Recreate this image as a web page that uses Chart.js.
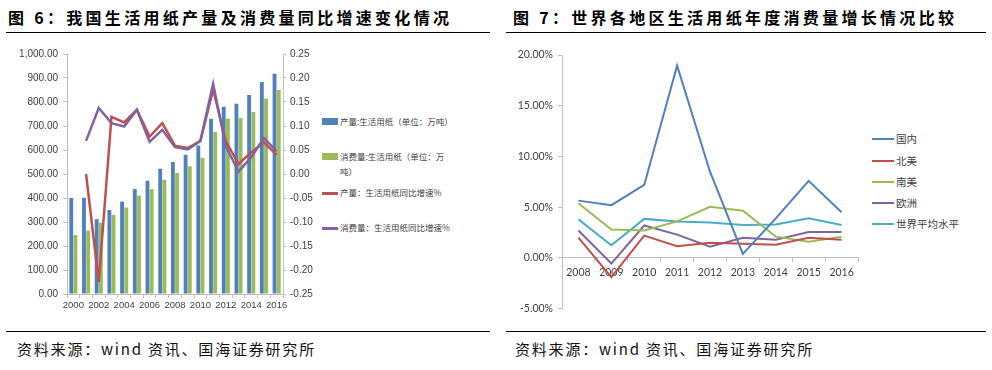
<!DOCTYPE html>
<html>
<head>
<meta charset="utf-8">
<script src="https://cdn.jsdelivr.net/npm/chart.js@4.4.1/dist/chart.umd.min.js"></script>
<style>
  body { margin: 0; background: #fff; }
  #page { position: relative; width: 992px; height: 370px; overflow: hidden; font-family: "Noto Sans CJK SC", sans-serif; }
  .title { position: absolute; top: 5px; font-size: 16px; font-weight: 700; letter-spacing: 3.3px; color: #000; white-space: nowrap; }
  .rule { position: absolute; height: 0; border-top: 1.5px solid #000; }
  .source { position: absolute; top: 338px; font-size: 15px; letter-spacing: 1.8px; color: #111; white-space: nowrap; }
  canvas { position: absolute; }
  .lg { position: absolute; font-size: 8.5px; color: #404040; line-height: 15px; white-space: nowrap; }
  .lg2 { position: absolute; font-size: 10.5px; color: #404040; line-height: 14px; white-space: nowrap; }
  .sw { position: absolute; }
</style>
</head>
<body>
<div id="page">
  <div class="title" style="left:8px">图 6：我国生活用纸产量及消费量同比增速变化情况</div>
  <div class="title" style="left:513px">图 7：世界各地区生活用纸年度消费量增长情况比较</div>
  <div class="rule" style="left:6px; width:484px; top:32px"></div>
  <div class="rule" style="left:506px; width:480px; top:32px"></div>
  <div class="rule" style="left:6px; width:484px; top:331px"></div>
  <div class="rule" style="left:506px; width:480px; top:331px"></div>
  <div class="source" style="left:17px">资料来源：wind 资讯、国海证券研究所</div>
  <div class="source" style="left:515px">资料来源：wind 资讯、国海证券研究所</div>

  <canvas id="c1" width="320" height="280" style="left:0; top:40px"></canvas>
  <canvas id="c2" width="370" height="280" style="left:500px; top:40px"></canvas>

  <div id="legend1"></div>
  <div id="legend2"></div>
</div>

<script>
// figure 6: China tissue paper output / consumption (10k tonnes) and YoY growth
const years6 = ["2000", "2001", "2002", "2003", "2004", "2005", "2006", "2007", "2008",
  "2009", "2010", "2011", "2012", "2013", "2014", "2015", "2016"];
const prodVolume = [400, 401, 312, 350, 385, 437, 472, 522, 550, 580, 619, 730, 780, 793, 829, 883, 918];
const consVolume = [246, 264, 297, 330, 360, 410, 437, 476, 504, 532, 568, 675, 730, 733, 758, 814, 851];
const prodGrowth = [null, 0.0, -0.225, 0.119, 0.1075, 0.134, 0.078, 0.106, 0.059, 0.054, 0.069,
  0.176, 0.068, 0.021, 0.045, 0.066, 0.04];
const consGrowth = [null, 0.069, 0.1375, 0.106, 0.099, 0.134, 0.067, 0.092, 0.056, 0.051, 0.069,
  0.188, 0.0575, 0.005, 0.035, 0.075, 0.047];

// figure 7: tissue consumption growth by region (%)
const years7 = ["2008", "2009", "2010", "2011", "2012", "2013", "2014", "2015", "2016"];
const domestic = [5.65, 5.2, 7.2, 18.95, 8.5, 0.4, 3.9, 7.6, 4.5];
const northAmerica = [2.0, -1.9, 2.2, 1.15, 1.5, 1.4, 1.3, 2.0, 1.8];
const southAmerica = [5.4, 2.8, 2.7, 3.6, 5.05, 4.65, 2.1, 1.6, 2.1];
const europe = [2.7, -0.55, 3.2, 2.3, 1.1, 2.0, 1.8, 2.55, 2.55];
const worldAvg = [3.8, 1.25, 3.85, 3.6, 3.5, 3.25, 3.3, 3.9, 3.25];

const BLUE = "#4F81BD", RED = "#C0504D", GREEN = "#9BBB59", PURPLE = "#8064A2", CYAN = "#4BACC6";
const AXIS = "#BFBFBF", TICK = "#404040";

const legend1 = [
  { text: "产量:生活用纸（单位：万吨）", color: BLUE, kind: "bar", y: 122 },
  { text: "消费量:生活用纸（单位：万<br>吨）", color: GREEN, kind: "bar", y: 157 },
  { text: "产量：生活用纸同比增速%", color: RED, kind: "line", y: 193 },
  { text: "消费量：生活用纸同比增速%", color: PURPLE, kind: "line", y: 228 },
];
const legend2 = [
  { text: "国内", color: BLUE, y: 139 },
  { text: "北美", color: RED, y: 161 },
  { text: "南美", color: GREEN, y: 182 },
  { text: "欧洲", color: PURPLE, y: 203 },
  { text: "世界平均水平", color: CYAN, y: 224 },
];

let html = "";
legend1.forEach((it) => {
  if (it.kind === "bar") {
    html += `<div class="sw" style="left:322px;top:${it.y - 4}px;width:16px;height:7px;background:${it.color}"></div>`;
  } else {
    html += `<div class="sw" style="left:322px;top:${it.y - 1}px;width:16px;height:2.5px;background:${it.color}"></div>`;
  }
  html += `<div class="lg" style="left:340px;top:${it.y - 8}px">${it.text}</div>`;
});
document.getElementById("legend1").innerHTML = html;

html = "";
legend2.forEach((it) => {
  html += `<div class="sw" style="left:872px;top:${it.y - 1}px;width:22px;height:2px;background:${it.color}"></div>`;
  html += `<div class="lg2" style="left:896px;top:${it.y - 7}px">${it.text}</div>`;
});
document.getElementById("legend2").innerHTML = html;

const narrow = { family: '"Liberation Sans Narrow", "Liberation Sans", Arial, sans-serif', size: 10 };
const narrowX = { family: '"Liberation Sans Narrow", "Liberation Sans", Arial, sans-serif', size: 9.5 };

new Chart(document.getElementById("c1"), {
  type: "bar",
  data: {
    labels: years6,
    datasets: [
      { label: "产量:生活用纸（单位：万吨）", data: prodVolume, backgroundColor: BLUE,
        yAxisID: "y", order: 2, categoryPercentage: 0.66, barPercentage: 0.92 },
      { label: "消费量:生活用纸（单位：万吨）", data: consVolume, backgroundColor: GREEN,
        yAxisID: "y", order: 2, categoryPercentage: 0.66, barPercentage: 0.92 },
      { type: "line", label: "产量：生活用纸同比增速%", data: prodGrowth, borderColor: RED,
        borderWidth: 2.5, pointRadius: 0, yAxisID: "y1", order: 1, tension: 0 },
      { type: "line", label: "消费量：生活用纸同比增速%", data: consGrowth, borderColor: PURPLE,
        borderWidth: 2.5, pointRadius: 0, yAxisID: "y1", order: 0, tension: 0 },
    ],
  },
  options: {
    responsive: false,
    animation: false,
    layout: { padding: { top: 14, left: 0, right: 0, bottom: 0 } },
    plugins: { legend: { display: false }, tooltip: { enabled: false } },
    scales: {
      x: {
        grid: { display: true, drawOnChartArea: false, tickLength: 4, color: AXIS },
        border: { color: AXIS },
        ticks: {
          autoSkip: false, maxRotation: 0, color: TICK, font: narrowX, padding: 2,
          callback: (v, i) => (i % 2 === 0 ? years6[i] : ""),
        },
        afterFit: (s) => { s.height = 26; },
      },
      y: {
        position: "left",
        min: 0, max: 1000,
        grid: { drawOnChartArea: false, tickLength: 4, color: AXIS },
        border: { color: AXIS },
        ticks: {
          stepSize: 100, color: TICK, font: narrow, padding: 5,
          callback: (v) => v.toLocaleString("en-US", { minimumFractionDigits: 2, maximumFractionDigits: 2 }),
        },
        afterFit: (s) => { s.width = 67; },
      },
      y1: {
        position: "right",
        min: -0.25, max: 0.25,
        grid: { drawOnChartArea: false, tickLength: 3, color: AXIS },
        border: { color: AXIS },
        ticks: {
          stepSize: 0.05, color: TICK, font: narrow, padding: 4,
          callback: (v) => (Math.abs(v) < 1e-9 ? "0.00" : v.toFixed(2)),
        },
        afterFit: (s) => { s.width = 37; },
      },
    },
  },
});

const lato = { family: "Lato, Carlito, sans-serif", size: 10.5 };

function regionLine(label, data, color) {
  return { label: label, data: data, borderColor: color, backgroundColor: color,
    borderWidth: 2, pointRadius: 0, tension: 0 };
}

new Chart(document.getElementById("c2"), {
  type: "line",
  data: {
    labels: years7,
    datasets: [
      regionLine("国内", domestic, BLUE),
      regionLine("北美", northAmerica, RED),
      regionLine("南美", southAmerica, GREEN),
      regionLine("欧洲", europe, PURPLE),
      regionLine("世界平均水平", worldAvg, CYAN),
    ],
  },
  options: {
    responsive: false,
    animation: false,
    layout: { padding: { top: 15, left: 0, right: 12, bottom: 11 } },
    plugins: { legend: { display: false }, tooltip: { enabled: false } },
    scales: {
      x: {
        position: { y: 0 },
        offset: true,
        grid: { display: true, offset: true, drawOnChartArea: false, tickLength: 4, color: AXIS },
        border: { color: AXIS },
        ticks: { color: TICK, font: lato, padding: 4, maxRotation: 0, autoSkip: false },
        afterFit: (s) => { s.height = 0; },
      },
      y: {
        min: -5, max: 20,
        grid: { drawOnChartArea: false, tickLength: 4, color: AXIS },
        border: { color: AXIS },
        ticks: { stepSize: 5, color: TICK, font: lato, padding: 5,
          callback: (v) => v.toFixed(2) + "%" },
        afterFit: (s) => { s.width = 62; },
      },
    },
  },
});
</script>
</body>
</html>
